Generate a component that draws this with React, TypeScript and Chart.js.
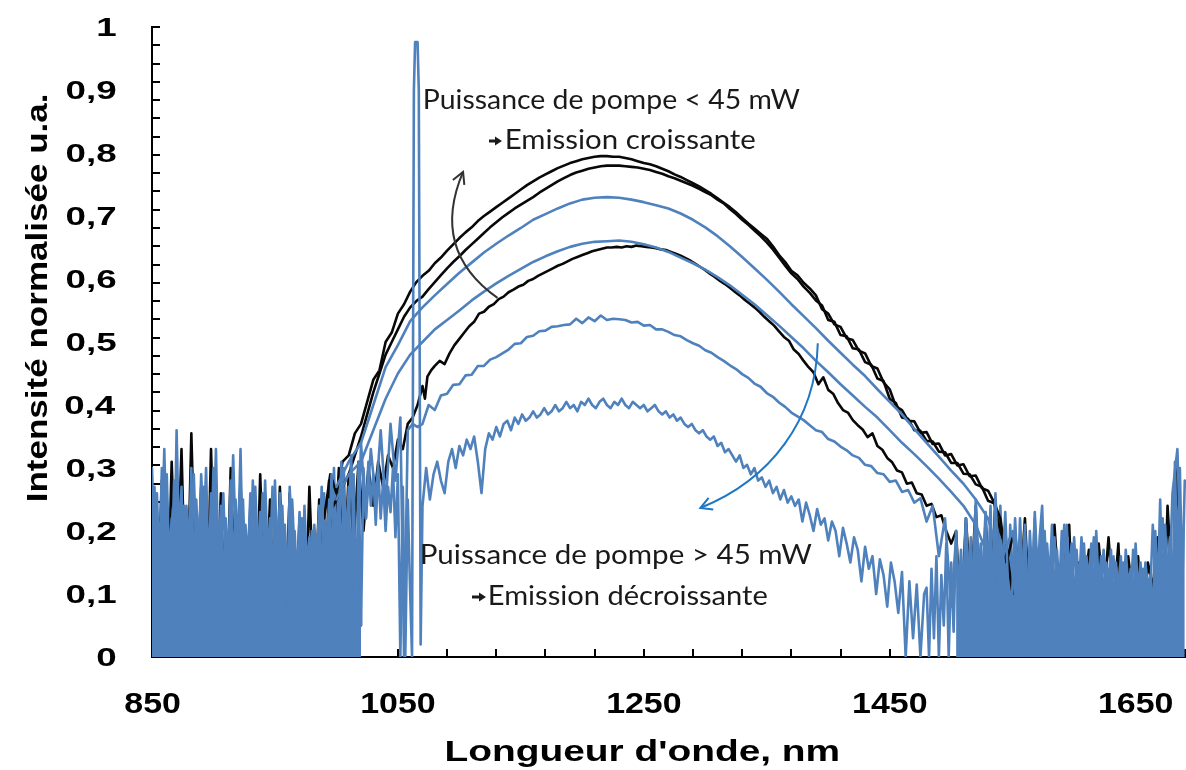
import React, { useEffect, useRef } from 'react';
import { Chart, registerables } from 'chart.js';

Chart.register(...registerables);

// ---------------- axes / text ----------------
const X_MIN = 850;
const X_MAX = 1691;
const Y_MIN = 0;
const Y_MAX = 1;
const X_TICK_VALUES = [850, 1050, 1250, 1450, 1650];
const X_TICK_LABELS = ['850', '1050', '1250', '1450', '1650'];
const Y_TICK_VALUES = [0, 0.1, 0.2, 0.3, 0.4, 0.5, 0.6, 0.7, 0.8, 0.9, 1];
const Y_TICK_LABELS = ['0', '0,1', '0,2', '0,3', '0,4', '0,5', '0,6', '0,7', '0,8', '0,9', '1'];
const X_MINOR_STEP = 40;
const Y_MINOR_STEP = 0.029;
const X_TITLE = "Longueur d'onde, nm";
const Y_TITLE = 'Intensité normalisée u.a.';
const NOTE_UP = ['Puissance de pompe < 45 mW', 'Emission croissante'];
const NOTE_DOWN = ['Puissance de pompe > 45 mW', 'Emission décroissante'];

// ---------------- spectra (nm, normalised intensity) ----------------
// Blue spectrum 4 (lowest emission, contains the 1064 nm pump line)
// noise floor below 1020 nm
const B4_NOISE_L_START = 850, B4_NOISE_L_STEP = 2;
const B4_NOISE_L = [
  0.30, 0.17, 0.26, 0.14, 0.30, 0.19, 0.29, 0.15, 0.22, 0.12,
  0.36, 0.18, 0.27, 0.13, 0.24, 0.17, 0.30, 0.11, 0.25, 0.16,
  0.29, 0.19, 0.30, 0.12, 0.26, 0.17, 0.33, 0.14, 0.24, 0.10,
  0.22, 0.15, 0.28, 0.12, 0.25, 0.17, 0.33, 0.13, 0.21, 0.15,
  0.26, 0.11, 0.27, 0.16, 0.23, 0.12, 0.28, 0.16, 0.22, 0.10,
  0.28, 0.14, 0.26, 0.17, 0.21, 0.10, 0.27, 0.14, 0.20, 0.12,
  0.23, 0.09, 0.24, 0.14, 0.19, 0.11, 0.21, 0.15, 0.24, 0.10,
  0.26, 0.15, 0.25, 0.13, 0.30, 0.16, 0.28, 0.12, 0.30, 0.17,
  0.27, 0.10, 0.29, 0.06, 0.31, 0.05,
];
const B4_EDGE_START = 1022, B4_EDGE_STEP = 2;
const B4_EDGE = [
  0.30, 0.22, 0.31, 0.24, 0.29, 0.21, 0.30, 0.22, 0.28, 0.20,
  0.27, 0.23, 0.30, 0.19, 0.29, 0.00, 0.27, 0.00, 0.25, 0.10,
];
const B4_PUMP_NM = [1061.5, 1063, 1064, 1066, 1067, 1068.5];
const B4_PUMP = [0.0, 0.9, 0.976, 0.976, 0.9, 0.02];
const B4_MID_START = 1070, B4_MID_STEP = 3;
const B4_MID = [
  0.24, 0.30, 0.25, 0.29, 0.31, 0.28, 0.26, 0.31, 0.33, 0.30,
  0.335, 0.32, 0.345, 0.33, 0.35, 0.31, 0.26, 0.33, 0.355, 0.345,
  0.365, 0.35, 0.37, 0.375, 0.36, 0.38, 0.37, 0.385, 0.375, 0.38,
  0.39, 0.38, 0.385, 0.395, 0.385, 0.39, 0.40, 0.39, 0.395, 0.405,
  0.395, 0.40, 0.39, 0.405, 0.40, 0.41, 0.40, 0.395, 0.405, 0.41,
  0.40, 0.395, 0.405, 0.40, 0.41, 0.40, 0.395, 0.405, 0.40, 0.395,
  0.40, 0.39, 0.395, 0.40, 0.39, 0.385, 0.39, 0.38, 0.385, 0.375,
  0.38, 0.37, 0.365, 0.37, 0.36, 0.355, 0.36, 0.35, 0.345, 0.35,
  0.335, 0.34, 0.325, 0.33, 0.32, 0.31, 0.32, 0.30, 0.305, 0.29,
  0.30, 0.28, 0.285, 0.27, 0.28, 0.26, 0.27, 0.25, 0.265, 0.245,
  0.255, 0.24, 0.25, 0.215, 0.245, 0.225, 0.20, 0.235, 0.21, 0.22,
  0.185, 0.215, 0.20, 0.16, 0.205, 0.18, 0.15, 0.19, 0.17, 0.12,
  0.175, 0.14, 0.16, 0.10, 0.155, 0.13, 0.08, 0.15, 0.12, 0.07,
  0.135, 0.00, 0.12, 0.03, 0.115, 0.00, 0.10,
];
const B4_TAIL_START = 1480, B4_TAIL_STEP = 2;
const B4_TAIL = [0.11, 0.00, 0.14, 0.03, 0.16, 0.00, 0.13, 0.05, 0.18, 0.00, 0.15, 0.04];
// noise floor above 1504 nm
const B4_NOISE_R_START = 1504, B4_NOISE_R_STEP = 2;
const B4_NOISE_R = [
  0.20, 0.10, 0.17, 0.08, 0.22, 0.11, 0.19, 0.07, 0.23, 0.12,
  0.18, 0.09, 0.21, 0.12, 0.24, 0.08, 0.20, 0.11, 0.24, 0.13,
  0.19, 0.07, 0.21, 0.12, 0.18, 0.09, 0.22, 0.13, 0.17, 0.06,
  0.20, 0.12, 0.22, 0.10, 0.19, 0.24, 0.11, 0.18, 0.12, 0.21,
  0.08, 0.17, 0.11, 0.20, 0.09, 0.21, 0.13, 0.18, 0.07, 0.17,
  0.11, 0.19, 0.10, 0.16, 0.12, 0.18, 0.08, 0.20, 0.11, 0.16,
  0.09, 0.15, 0.12, 0.17, 0.07, 0.15, 0.10, 0.16, 0.08, 0.17,
  0.11, 0.14, 0.07, 0.18, 0.10, 0.15, 0.08, 0.15, 0.11, 0.13,
  0.06, 0.20, 0.10, 0.25, 0.09, 0.21, 0.12, 0.19, 0.08, 0.31,
  0.13, 0.30, 0.11, 0.28,
];

// Blue spectrum 3 (peak ~0.54)
const B3_LEFT_START = 852, B3_LEFT_STEP = 4;
const B3_LEFT = [
  0.27, 0.03, 0.33, 0.00, 0.28, 0.06, 0.24, 0.00, 0.29, 0.05,
  0.27, 0.00, 0.30, 0.07, 0.26, 0.02, 0.32, 0.05, 0.25, 0.00,
  0.28, 0.06, 0.26, 0.01, 0.27, 0.04, 0.24, 0.00, 0.25, 0.07,
  0.22, 0.03, 0.20, 0.00, 0.27, 0.05, 0.29, 0.02,
  0.31, 0.10, 0.32, 0.04, 0.34, 0.22, 0.33, 0.25, 0.36, 0.24, 0.37, 0.28, 0.38,
];
const B3_JOIN_NM = [1055, 1058, 1062, 1066];
const B3_JOIN = [0.0, 0.36, 0.37, 0.365];
const B3_MID_START = 1070, B3_MID_STEP = 5;
const B3_MID = [
  0.37, 0.40, 0.392, 0.415, 0.418, 0.432, 0.433, 0.447, 0.448, 0.462,
  0.462, 0.472, 0.476, 0.482, 0.488, 0.497, 0.498, 0.508, 0.51, 0.517,
  0.518, 0.524, 0.525, 0.527, 0.528, 0.537, 0.53, 0.539, 0.533, 0.542,
  0.535, 0.537, 0.536, 0.535, 0.531, 0.532, 0.526, 0.527, 0.52, 0.52,
  0.516, 0.511, 0.509, 0.503, 0.498, 0.494, 0.487, 0.483, 0.476, 0.47,
  0.463, 0.457, 0.449, 0.443, 0.434, 0.429, 0.419, 0.413, 0.404, 0.397,
  0.388, 0.382, 0.376, 0.368, 0.36, 0.357, 0.346, 0.342, 0.334, 0.328,
  0.32, 0.316, 0.305, 0.303, 0.292, 0.29, 0.278, 0.28, 0.262, 0.265,
  0.245, 0.252, 0.215, 0.24, 0.16, 0.22, 0.08,
];
const B3_RIGHT_START = 1504, B3_RIGHT_STEP = 4;
const B3_RIGHT = [
  0.19, 0.00, 0.22, 0.04, 0.25, 0.07, 0.23, 0.00, 0.26, 0.06,
  0.23, 0.02, 0.22, 0.05, 0.21, 0.00, 0.23, 0.06, 0.20, 0.03,
  0.19, 0.07, 0.21, 0.00, 0.19, 0.04, 0.18, 0.02, 0.19, 0.06,
  0.17, 0.00, 0.16, 0.05, 0.15, 0.02, 0.17, 0.06, 0.14, 0.00,
  0.21, 0.05, 0.22, 0.03, 0.26, 0.33, 0.08,
];

// Blue spectrum 2 (peak ~0.66)
const B2_START = 1000, B2_STEP = 10;
const B2 = [
  0.25, 0.29, 0.31, 0.36, 0.41, 0.45, 0.48, 0.50, 0.52, 0.535,
  0.55, 0.566, 0.58, 0.593, 0.605, 0.616, 0.627, 0.636, 0.644, 0.651,
  0.656, 0.659, 0.66, 0.661, 0.659, 0.655, 0.65, 0.643, 0.634, 0.625,
  0.615, 0.603, 0.59, 0.575, 0.56, 0.543, 0.526, 0.508, 0.49, 0.47,
  0.452, 0.433, 0.415, 0.397, 0.38, 0.36, 0.34, 0.322, 0.303, 0.283,
  0.262, 0.24, 0.21, 0.16, 0.08,
];

// Blue spectrum 1 (peak ~0.73)
const B1_START = 1000, B1_STEP = 10;
const B1 = [
  0.27, 0.31, 0.34, 0.40, 0.46, 0.495, 0.533, 0.555, 0.574, 0.592,
  0.61, 0.626, 0.642, 0.656, 0.669, 0.681, 0.694, 0.703, 0.712, 0.72,
  0.726, 0.729, 0.73, 0.729, 0.726, 0.722, 0.717, 0.712, 0.704, 0.694,
  0.682, 0.668, 0.652, 0.635, 0.617, 0.599, 0.58, 0.56, 0.541, 0.522,
  0.502, 0.483, 0.464, 0.446, 0.425, 0.405, 0.385, 0.362, 0.34, 0.318,
  0.296, 0.275, 0.25, 0.22, 0.15, 0.2, 0.05,
];

// Black spectrum 1 (peak ~0.795)
const K1_START = 990, K1_STEP = 5;
const K1 = [
  0.22, 0.29, 0.26, 0.31, 0.32, 0.355, 0.37, 0.405, 0.44, 0.455,
  0.50, 0.515, 0.545, 0.56, 0.58, 0.595, 0.605, 0.613, 0.625, 0.634,
  0.645, 0.655, 0.665, 0.674, 0.682, 0.692, 0.70, 0.707, 0.714, 0.721,
  0.728, 0.735, 0.742, 0.749, 0.755, 0.761, 0.766, 0.771, 0.776, 0.78,
  0.784, 0.787, 0.79, 0.792, 0.794, 0.795, 0.795, 0.794, 0.794, 0.792,
  0.79, 0.787, 0.784, 0.782, 0.779, 0.775, 0.771, 0.766, 0.762, 0.757,
  0.752, 0.747, 0.741, 0.735, 0.728, 0.721, 0.714, 0.706, 0.697, 0.688,
  0.68, 0.672, 0.664, 0.652, 0.638, 0.627, 0.613, 0.606, 0.594, 0.585,
  0.574, 0.552, 0.545, 0.528, 0.524, 0.506, 0.503, 0.486, 0.482, 0.462,
  0.458, 0.436, 0.425, 0.398, 0.392, 0.375, 0.374, 0.356, 0.357, 0.338,
  0.339, 0.32, 0.322, 0.304, 0.306, 0.287, 0.288, 0.268, 0.264, 0.245,
  0.22, 0.15, 0.19,
];

// Black spectrum 2 (peak ~0.78)
const K2_START = 995, K2_STEP = 5;
const K2 = [
  0.23, 0.25, 0.27, 0.29, 0.32, 0.35, 0.385, 0.42, 0.45, 0.48,
  0.50, 0.52, 0.54, 0.555, 0.565, 0.572, 0.584, 0.595, 0.606, 0.617,
  0.627, 0.636, 0.646, 0.655, 0.664, 0.673, 0.682, 0.69, 0.698, 0.705,
  0.712, 0.718, 0.724, 0.73, 0.737, 0.743, 0.749, 0.755, 0.76, 0.765,
  0.769, 0.772, 0.775, 0.777, 0.779, 0.78, 0.78, 0.78, 0.779, 0.778,
  0.777, 0.775, 0.773, 0.77, 0.767, 0.763, 0.76, 0.756, 0.752, 0.748,
  0.743, 0.738, 0.733, 0.726, 0.72, 0.711, 0.703, 0.694, 0.686, 0.677,
  0.668, 0.658, 0.647, 0.634, 0.621, 0.609, 0.6, 0.588, 0.578, 0.566,
  0.558, 0.535, 0.532, 0.511, 0.509, 0.49, 0.488, 0.468, 0.464, 0.442,
  0.438, 0.41, 0.403, 0.38, 0.378, 0.36, 0.359, 0.343, 0.342, 0.326,
  0.325, 0.308, 0.308, 0.291, 0.29, 0.274, 0.27, 0.248, 0.244, 0.2,
  0.17, 0.1,
];

// Black spectrum 3 (peak ~0.65)
const K3_LEFT_START = 850, K3_LEFT_STEP = 4;
const K3_LEFT = [
  0.25, 0.05, 0.28, 0.00, 0.31, 0.08, 0.33, 0.02, 0.355, 0.06,
  0.27, 0.00, 0.33, 0.05, 0.26, 0.00, 0.30, 0.07, 0.28, 0.03,
  0.24, 0.00, 0.29, 0.06, 0.25, 0.00, 0.27, 0.05, 0.26, 0.02,
  0.22, 0.00, 0.27, 0.06, 0.25, 0.03, 0.28, 0.15, 0.30, 0.12,
  0.29, 0.18, 0.31, 0.20, 0.30, 0.24, 0.31, 0.27, 0.32, 0.30,
  0.345, 0.33, 0.37, 0.38,
];
const K3_JOIN_NM = [1066, 1070, 1072, 1074, 1077];
const K3_JOIN = [0.40, 0.43, 0.41, 0.445, 0.455];
const K3_MID_START = 1080, K3_MID_STEP = 4;
const K3_MID = [
  0.462, 0.47, 0.465, 0.482, 0.495, 0.505, 0.515, 0.525, 0.532, 0.545,
  0.548, 0.556, 0.56, 0.568, 0.572, 0.579, 0.583, 0.588, 0.591, 0.597,
  0.6, 0.605, 0.609, 0.613, 0.617, 0.621, 0.624, 0.628, 0.632, 0.635,
  0.638, 0.641, 0.644, 0.646, 0.648, 0.65, 0.65, 0.651, 0.65, 0.652,
  0.651, 0.653, 0.652, 0.651, 0.65, 0.649, 0.647, 0.646, 0.643, 0.64,
  0.637, 0.633, 0.629, 0.624, 0.619, 0.614, 0.608, 0.603, 0.597, 0.592,
  0.586, 0.58, 0.574, 0.567, 0.561, 0.555, 0.548, 0.54, 0.533, 0.526,
  0.517, 0.508, 0.502, 0.488, 0.481, 0.47, 0.46, 0.452, 0.433, 0.444,
  0.424, 0.418, 0.403, 0.392, 0.388, 0.376, 0.368, 0.361, 0.349, 0.355,
  0.335, 0.329, 0.316, 0.309, 0.296, 0.293, 0.275, 0.277, 0.26, 0.258,
  0.24, 0.243, 0.222, 0.225, 0.2, 0.18,
];
const K3_RIGHT_START = 1504, K3_RIGHT_STEP = 4;
const K3_RIGHT = [
  0.20, 0.05, 0.22, 0.10, 0.24, 0.00, 0.22, 0.08, 0.25, 0.12,
  0.21, 0.03, 0.20, 0.10, 0.22, 0.06, 0.19, 0.12, 0.18, 0.00,
  0.21, 0.09, 0.17, 0.21, 0.00, 0.15, 0.10, 0.17, 0.06, 0.18,
  0.09, 0.19, 0.08, 0.18, 0.00, 0.16, 0.09, 0.16, 0.05, 0.15,
  0.11, 0.19, 0.00, 0.24, 0.10, 0.30, 0.05,
];

// ---------------- helpers ----------------
type Pt = { x: number; y: number };
function grid(start: number, step: number, values: number[]): Pt[] {
  return values.map((v, i) => ({ x: start + i * step, y: v }));
}
function pairs(nm: number[], values: number[]): Pt[] {
  return values.map((v, i) => ({ x: nm[i], y: v }));
}

const BLUE = '#4F81BD';
const BLACK = '#080808';
const SANS = '"Liberation Sans", Arial, sans-serif';
const NOTE_FONT = 'Lato, "Open Sans", sans-serif';

function drawInk(ctx: CanvasRenderingContext2D, text: string, font: string, anchorX: number, baseline: number,
  align: 'left' | 'center' | 'right', sx: number) {
  ctx.save();
  ctx.font = font;
  ctx.textAlign = 'left';
  ctx.textBaseline = 'alphabetic';
  const m = ctx.measureText(text);
  const inkL = -m.actualBoundingBoxLeft;
  const inkR = m.actualBoundingBoxRight;
  const w = (inkR - inkL) * sx;
  let left = anchorX;
  if (align === 'center') left = anchorX - w / 2;
  if (align === 'right') left = anchorX - w;
  ctx.translate(left, baseline);
  ctx.scale(sx, 1);
  ctx.fillText(text, -inkL, 0);
  ctx.restore();
}
function inkWidth(ctx: CanvasRenderingContext2D, text: string, font: string) {
  ctx.save();
  ctx.font = font;
  ctx.textAlign = 'left';
  const m = ctx.measureText(text);
  ctx.restore();
  return m.actualBoundingBoxLeft + m.actualBoundingBoxRight;
}
function fitInk(ctx: CanvasRenderingContext2D, text: string, font: string, x0: number, x1: number, baseline: number) {
  const sx = (x1 - x0) / inkWidth(ctx, text, font);
  drawInk(ctx, text, font, x0, baseline, 'left', sx);
}
function openHead(ctx: CanvasRenderingContext2D, x: number, y: number, angle: number, size: number) {
  ctx.beginPath();
  ctx.moveTo(x - size * Math.cos(angle - 0.5), y - size * Math.sin(angle - 0.5));
  ctx.lineTo(x, y);
  ctx.lineTo(x - size * Math.cos(angle + 0.5), y - size * Math.sin(angle + 0.5));
  ctx.stroke();
}
// small bold "➔" bullet drawn as a shape
function bulletArrow(ctx: CanvasRenderingContext2D, x0: number, x1: number, cy: number) {
  const head = 6;
  ctx.beginPath();
  ctx.rect(x0, cy - 1.4, x1 - x0 - head, 2.8);
  ctx.moveTo(x1 - head - 1, cy - 4.5);
  ctx.lineTo(x1, cy);
  ctx.lineTo(x1 - head - 1, cy + 4.5);
  ctx.closePath();
  ctx.fill();
}

// annotation arrows in data coordinates (nm, intensity)
const ARROW_UP = { start: [1131, 0.57], c1: [1076, 0.646], end: [1103, 0.77] };
const ARROW_DOWN = { start: [1391.5, 0.498], c1: [1390, 0.376], c2: [1353, 0.281], end: [1296, 0.2365] };

const decor = {
  id: 'decor',
  beforeDatasetsDraw(chart: any) {
    const { ctx, chartArea, scales } = chart;
    const { left, bottom } = chartArea;
    ctx.save();
    ctx.strokeStyle = '#000';
    ctx.lineWidth = 2;
    ctx.beginPath();
    for (let v = X_MIN; v <= X_MAX; v += X_MINOR_STEP) {
      const px = Math.round(scales.x.getPixelForValue(v));
      ctx.moveTo(px, bottom);
      ctx.lineTo(px, bottom - 8);
    }
    for (let v = Y_MAX; v >= Y_MIN - 1e-9; v -= Y_MINOR_STEP) {
      const py = Math.round(scales.y.getPixelForValue(v));
      ctx.moveTo(left, py);
      ctx.lineTo(left + 8, py);
    }
    ctx.stroke();
    ctx.restore();
  },
  afterDraw(chart: any) {
    const { ctx, scales } = chart;
    const x = scales.x, y = scales.y;
    ctx.save();
    ctx.fillStyle = '#000';

    // y tick labels
    const fy = `bold 26px ${SANS}`;
    const sxY = 49 / inkWidth(ctx, '0,9', fy);
    Y_TICK_VALUES.forEach((v, i) => {
      drawInk(ctx, Y_TICK_LABELS[i], fy, 116, y.getPixelForValue(v) + 9.3, 'right', sxY);
    });
    // x tick labels
    const fx = `bold 29px ${SANS}`;
    const sxX = 73 / inkWidth(ctx, '1050', fx);
    X_TICK_VALUES.forEach((v, i) => {
      drawInk(ctx, X_TICK_LABELS[i], fx, x.getPixelForValue(v), 713, 'center', sxX);
    });
    // x title
    const ft = `bold 30px ${SANS}`;
    fitInk(ctx, X_TITLE, ft, 447, 838, 761);
    // y title
    ctx.save();
    ctx.translate(47, 297.5);
    ctx.rotate(-Math.PI / 2);
    const sxT = 405 / inkWidth(ctx, Y_TITLE, ft);
    drawInk(ctx, Y_TITLE, ft, 0, 0, 'center', sxT);
    ctx.restore();

    // notes
    ctx.fillStyle = '#1a1a1a';
    const fn = `26px ${NOTE_FONT}`;
    fitInk(ctx, NOTE_UP[0], fn, 425, 800, 109);
    bulletArrow(ctx, 489, 502, 141);
    fitInk(ctx, NOTE_UP[1], fn, 507, 755, 149);
    fitInk(ctx, NOTE_DOWN[0], fn, 422, 812, 564);
    bulletArrow(ctx, 472, 486, 597);
    fitInk(ctx, NOTE_DOWN[1], fn, 490, 767, 605);

    // arrows
    const P = (p: number[]) => [x.getPixelForValue(p[0]), y.getPixelForValue(p[1])];
    ctx.lineWidth = 2;
    ctx.strokeStyle = '#333333';
    {
      const s = P(ARROW_UP.start), c = P(ARROW_UP.c1), e = P(ARROW_UP.end);
      ctx.beginPath();
      ctx.moveTo(s[0], s[1]);
      ctx.quadraticCurveTo(c[0], c[1], e[0], e[1]);
      ctx.stroke();
      openHead(ctx, e[0], e[1], Math.atan2(e[1] - c[1], e[0] - c[0]), 13);
    }
    ctx.strokeStyle = '#1F78C4';
    {
      const s = P(ARROW_DOWN.start), c1 = P(ARROW_DOWN.c1), c2 = P(ARROW_DOWN.c2), e = P(ARROW_DOWN.end);
      ctx.beginPath();
      ctx.moveTo(s[0], s[1]);
      ctx.bezierCurveTo(c1[0], c1[1], c2[0], c2[1], e[0], e[1]);
      ctx.stroke();
      openHead(ctx, e[0], e[1], Math.atan2(e[1] - c2[1], e[0] - c2[0]), 13);
    }
    ctx.restore();
  },
};

function line(label: string, color: string, data: Pt[], filled = false) {
  return {
    label,
    data,
    borderColor: color,
    backgroundColor: color,
    borderWidth: 2.6,
    pointRadius: 0,
    tension: 0,
    fill: filled ? 'origin' : false,
    borderJoinStyle: 'round' as const,
    borderCapStyle: 'round' as const,
  };
}

export default function App() {
  const ref = useRef<HTMLCanvasElement>(null);
  useEffect(() => {
    document.body.style.margin = '0';
    const noiseL = grid(B4_NOISE_L_START, B4_NOISE_L_STEP, B4_NOISE_L);
    const noiseR = grid(B4_NOISE_R_START, B4_NOISE_R_STEP, B4_NOISE_R);
    const datasets = [
      line('Bleu 4', BLUE, [
        noiseL[noiseL.length - 1],
        ...grid(B4_EDGE_START, B4_EDGE_STEP, B4_EDGE),
        ...pairs(B4_PUMP_NM, B4_PUMP),
        ...grid(B4_MID_START, B4_MID_STEP, B4_MID),
        ...grid(B4_TAIL_START, B4_TAIL_STEP, B4_TAIL),
        noiseR[0],
      ]),
      line('Bleu 3', BLUE, [
        ...grid(B3_LEFT_START, B3_LEFT_STEP, B3_LEFT),
        ...pairs(B3_JOIN_NM, B3_JOIN),
        ...grid(B3_MID_START, B3_MID_STEP, B3_MID),
        ...grid(B3_RIGHT_START, B3_RIGHT_STEP, B3_RIGHT),
      ]),
      line('Bleu 2', BLUE, grid(B2_START, B2_STEP, B2)),
      line('Bleu 1', BLUE, grid(B1_START, B1_STEP, B1)),
      line('Noir 1', BLACK, grid(K1_START, K1_STEP, K1)),
      line('Noir 2', BLACK, grid(K2_START, K2_STEP, K2)),
      line('Bleu 4 (bruit < 1020 nm)', BLUE, noiseL, true),
      line('Bleu 4 (bruit > 1504 nm)', BLUE, noiseR, true),
      line('Noir 3', BLACK, [
        ...grid(K3_LEFT_START, K3_LEFT_STEP, K3_LEFT),
        ...pairs(K3_JOIN_NM, K3_JOIN),
        ...grid(K3_MID_START, K3_MID_STEP, K3_MID),
        ...grid(K3_RIGHT_START, K3_RIGHT_STEP, K3_RIGHT),
      ]),
    ];
    const chart = new Chart(ref.current as HTMLCanvasElement, {
      type: 'line',
      data: { datasets } as any,
      options: {
        animation: false,
        responsive: false,
        maintainAspectRatio: false,
        devicePixelRatio: 1,
        layout: { padding: { top: 27, right: 0, left: 0, bottom: 0 } },
        plugins: { legend: { display: false }, tooltip: { enabled: false } },
        scales: {
          x: {
            type: 'linear',
            min: X_MIN,
            max: X_MAX,
            grid: { display: false },
            border: { display: true, color: '#000', width: 2 },
            ticks: { display: false },
            afterFit: (s: any) => { s.height = 113; },
          },
          y: {
            type: 'linear',
            min: Y_MIN,
            max: Y_MAX,
            grid: { display: false },
            border: { display: true, color: '#000', width: 2 },
            ticks: { display: false },
            afterFit: (s: any) => { s.width = 152; },
          },
        },
      } as any,
      plugins: [decor],
    });
    return () => chart.destroy();
  }, []);
  return (
    <div style={{ width: 1186, height: 770, background: '#fff' }}>
      <canvas ref={ref} width={1186} height={770} style={{ display: 'block' }} />
    </div>
  );
}
